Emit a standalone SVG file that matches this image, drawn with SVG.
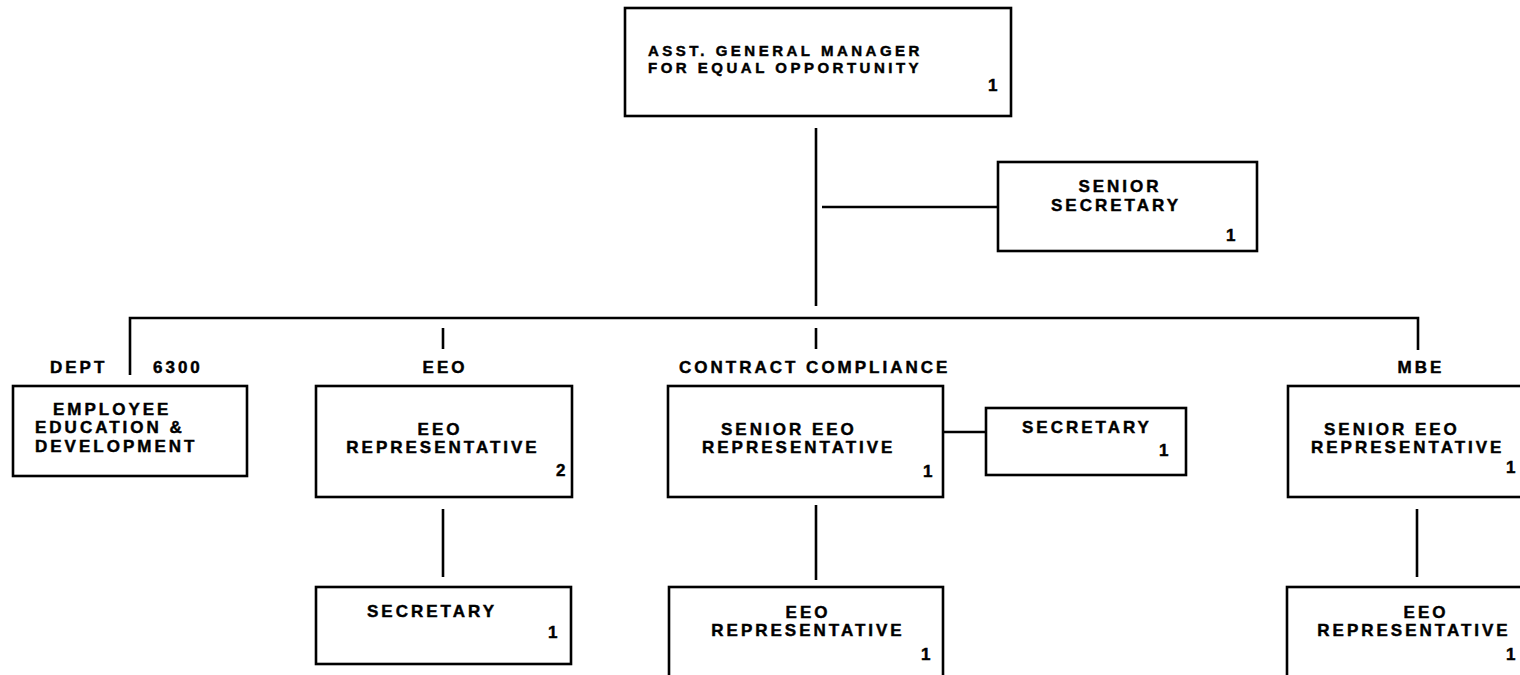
<svg xmlns="http://www.w3.org/2000/svg" width="1520" height="675" viewBox="0 0 1520 675">
<style>
.box{fill:none;stroke:#000;stroke-width:2.6}
.ln{fill:none;stroke:#000;stroke-width:2.6}
.t{font-family:"Liberation Sans",Arial,sans-serif;font-weight:bold;font-size:17px;letter-spacing:3px;fill:#000;stroke:#000;stroke-width:0.45}
.s{font-size:15px;letter-spacing:3.5px}
.c{text-anchor:middle}
</style>
<rect width="1520" height="675" fill="#fff"/>
<g id="connectors">
<line class="ln" x1="816" y1="128" x2="816" y2="306"/>
<line class="ln" x1="822" y1="207" x2="998" y2="207"/>
<polyline class="ln" points="130,375 130,318 1418,318 1418,350"/>
<line class="ln" x1="443" y1="328" x2="443" y2="349"/>
<line class="ln" x1="816" y1="328" x2="816" y2="349"/>
<line class="ln" x1="443" y1="509" x2="443" y2="577"/>
<line class="ln" x1="816" y1="505" x2="816" y2="580"/>
<line class="ln" x1="1417" y1="509" x2="1417" y2="577"/>
<line class="ln" x1="943" y1="432" x2="986" y2="432"/>
</g>
<g id="section-labels">
<text class="t" x="50" y="373">DEPT</text>
<text class="t" x="153" y="373">6300</text>
<text class="t c" x="445" y="373">EEO</text>
<text class="t" x="679" y="373">CONTRACT COMPLIANCE</text>
<text class="t c" x="1421" y="373">MBE</text>
</g>
<g id="n-agm">
<rect class="box" x="625" y="8" width="386" height="108"/>
<text class="t s" x="648" y="56">ASST. GENERAL MANAGER</text>
<text class="t s" x="648" y="73">FOR EQUAL OPPORTUNITY</text>
<text class="t" x="988" y="91">1</text>
</g>
<g id="n-senior-secretary">
<rect class="box" x="998" y="162" width="259" height="89"/>
<text class="t c" x="1120" y="192">SENIOR</text>
<text class="t c" x="1116" y="211">SECRETARY</text>
<text class="t" x="1226" y="241">1</text>
</g>
<g id="n-employee-education">
<rect class="box" x="13" y="386" width="234" height="90"/>
<text class="t" x="53" y="415">EMPLOYEE</text>
<text class="t" x="35" y="433">EDUCATION &amp;</text>
<text class="t" x="35" y="452">DEVELOPMENT</text>
</g>
<g id="n-eeo-rep">
<rect class="box" x="316" y="386" width="256" height="111"/>
<text class="t c" x="440" y="435">EEO</text>
<text class="t c" x="443" y="453">REPRESENTATIVE</text>
<text class="t" x="556" y="476">2</text>
</g>
<g id="n-eeo-secretary">
<rect class="box" x="316" y="587" width="255" height="77"/>
<text class="t c" x="432" y="617">SECRETARY</text>
<text class="t" x="548" y="638">1</text>
</g>
<g id="n-cc-senior-eeo-rep">
<rect class="box" x="668" y="386" width="275" height="111"/>
<text class="t" x="721" y="435">SENIOR EEO</text>
<text class="t" x="702" y="453">REPRESENTATIVE</text>
<text class="t" x="923" y="477">1</text>
</g>
<g id="n-cc-secretary">
<rect class="box" x="986" y="408" width="200" height="67"/>
<text class="t" x="1022" y="433">SECRETARY</text>
<text class="t" x="1159" y="456">1</text>
</g>
<g id="n-cc-eeo-rep">
<rect class="box" x="669" y="587" width="274" height="110"/>
<text class="t c" x="808" y="618">EEO</text>
<text class="t c" x="808" y="636">REPRESENTATIVE</text>
<text class="t" x="921" y="660">1</text>
</g>
<g id="n-mbe-senior-eeo-rep">
<rect class="box" x="1288" y="386" width="250" height="111"/>
<text class="t" x="1324" y="435">SENIOR EEO</text>
<text class="t" x="1311" y="453">REPRESENTATIVE</text>
<text class="t" x="1506" y="473">1</text>
</g>
<g id="n-mbe-eeo-rep">
<rect class="box" x="1287" y="587" width="250" height="110"/>
<text class="t c" x="1426" y="618">EEO</text>
<text class="t c" x="1414" y="636">REPRESENTATIVE</text>
<text class="t" x="1506" y="660">1</text>
</g>
</svg>
